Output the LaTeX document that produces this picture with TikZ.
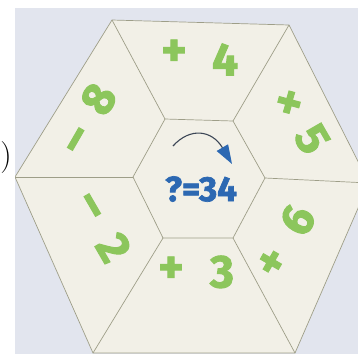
\documentclass[tikz,border=0pt]{standalone}
\usepackage{fontspec}
\newfontfamily\puzzlefont{Fira Sans}[FakeBold=2]
\usepackage{tikz}
\usetikzlibrary{arrows.meta}

\definecolor{photobg}{RGB}{226,229,238}
\definecolor{card}{RGB}{242,240,231}
\definecolor{seam}{RGB}{158,158,136}
\definecolor{opgreen}{RGB}{140,198,92}
\definecolor{qblue}{RGB}{44,104,178}
\definecolor{curvegray}{RGB}{60,70,86}

\begin{document}
\begin{tikzpicture}[x=1pt, y=-1pt,
    seamline/.style={draw=seam, line width=0.7pt},
    opsign/.style={text=opgreen, font=\puzzlefont\bfseries\fontsize{48}{48}\selectfont, inner sep=0pt, text height=0.62em, text depth=0pt},
    digit/.style={text=opgreen, font=\puzzlefont\bfseries\fontsize{46}{46}\selectfont, inner sep=0pt, text height=0.68em, text depth=0pt}]
	\useasboundingbox (0,0) rectangle (358,354);
	% photo background
	\fill[photobg] (15,8) rectangle (358,354);

	% outer corners
	\coordinate (o1) at (15,177);
	\coordinate (o2) at (112,20);
	\coordinate (o3) at (289,25);
	\coordinate (o4) at (369,183);
	\coordinate (o5) at (295,353);
	\coordinate (o6) at (93,353);
	% inner corners
	\coordinate (i1) at (133,177);
	\coordinate (i2) at (165,119);
	\coordinate (i3) at (233,121);
	\coordinate (i4) at (265,178);
	\coordinate (i5) at (233,238);
	\coordinate (i6) at (163,238);

	\begin{scope}
		\clip (15,8) rectangle (358,354);
		\fill[card] (o1) -- (o2) -- (o3) -- (o4) -- (o5) -- (o6) -- cycle;
		\draw[seamline] (o1) -- (o2) -- (o3) -- (o4) -- (o5) -- (o6) -- cycle;
		\draw[seamline] (i1) -- (i2) -- (i3) -- (i4) -- (i5) -- (i6) -- cycle;
		\foreach \k in {1,...,6}
			\draw[seamline] (i\k) -- (o\k);
	\end{scope}

	% bracket at the left margin
	\node[font=\fontsize{32}{32}\selectfont, inner sep=0pt] (brace) at (6,158) {)};

	% sectors, clockwise from the top
	\node[opsign] (opA) at (174,63) {+};
	\node[digit] (numA) at (225,72) {4};
	\node[opsign, rotate=-60] (opB) at (279,108) {×};
	\node[digit, rotate=-60] (numB) at (302,145) {5};
	\node[opsign, rotate=60] (opC) at (282,268) {+};
	\node[digit, rotate=60] (numC) at (308,226) {6};
	\node[opsign] (opD) at (171,280) {+};
	\node[digit] (numD) at (222,284) {3};
	\node[opsign, rotate=-60] (opE) at (82,211) {–};
	\node[digit, rotate=-60] (numE) at (103,254) {2};
	\node[opsign, rotate=60] (opF) at (86,145) {–};
	\node[digit, rotate=60] (numF) at (109,105) {8};

	% centre
	\node[text=qblue, font=\puzzlefont\bfseries\fontsize{35}{35}\selectfont, inner sep=0pt] (goal) at (201,189) {?=34};
	\coordinate (turnA) at (173,146);
	\coordinate (turnB) at (232,164);
	\draw[curvegray, line width=1.1pt, -{Triangle[length=19pt, width=13pt, color=qblue]}]
		(turnA) .. controls (190,127) and (212,130) .. (turnB);
\end{tikzpicture}
\end{document}
